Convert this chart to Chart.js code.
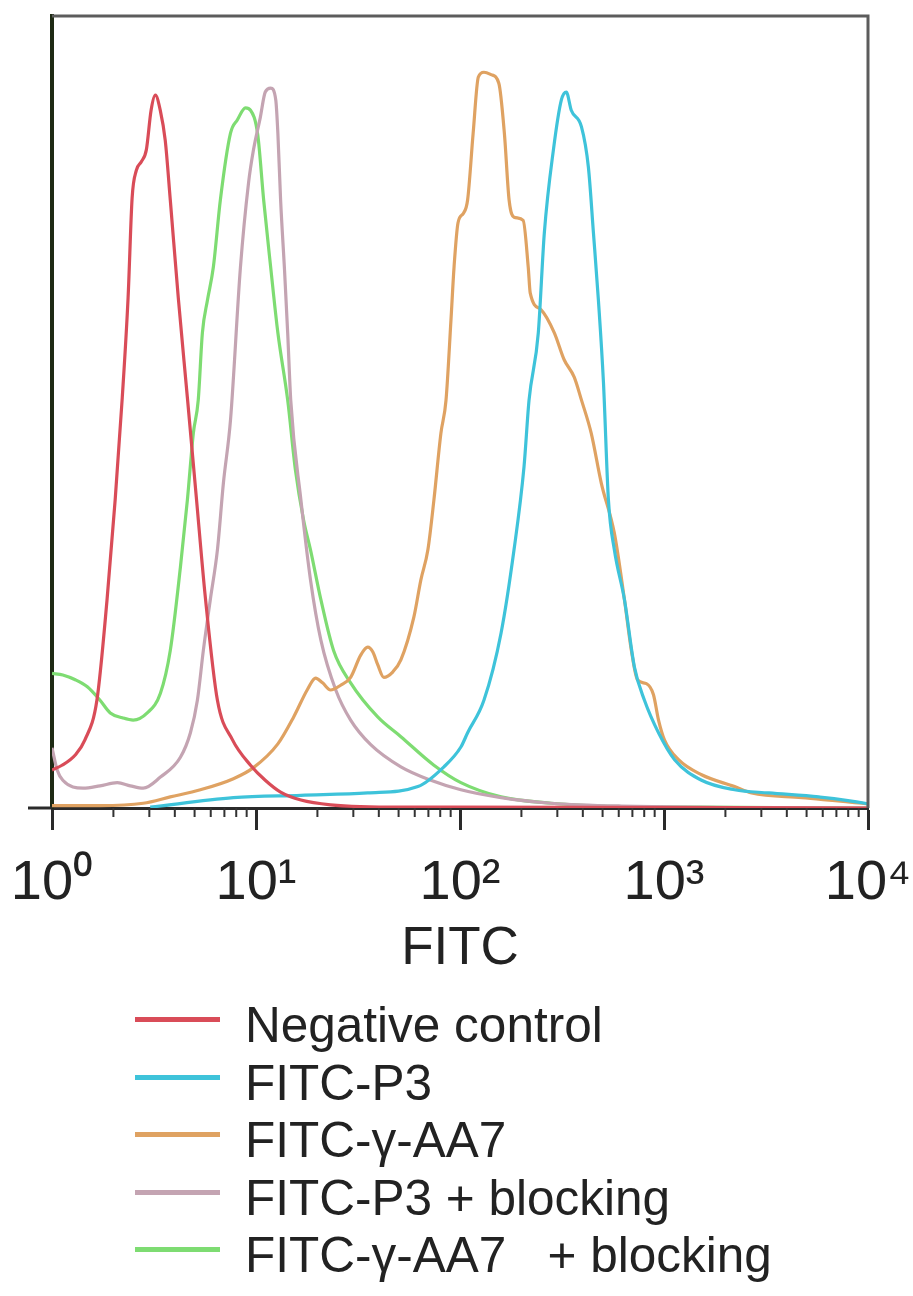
<!DOCTYPE html>
<html>
<head>
<meta charset="utf-8">
<script src="https://cdn.jsdelivr.net/npm/chart.js@4/dist/chart.umd.min.js"></script>
<style>
  html, body { margin: 0; padding: 0; background: #fff; }
  #wrap { position: relative; width: 913px; height: 1296px; }
  #chart { position: absolute; left: 0; top: 0; }
  #legend { position: absolute; left: 135px; top: 996px; }
  .row { display: flex; align-items: center; height: 57.5px; font: 49.5px "Liberation Sans", Arial, sans-serif; color: #222; white-space: pre; }
  .swatch { width: 85px; height: 5px; margin-right: 25px; margin-top: -10px; }
</style>
</head>
<body>
<div id="wrap">
  <canvas id="chart" width="913" height="990"></canvas>
  <div id="legend"></div>
</div>
<script>
// x axis decades and their labels
const decadeTicks = [1, 10, 100, 1000, 10000];
const decadeLabels = ['10⁰', '10¹', '10²', '10³', '10⁴'];
const axisTitle = 'FITC';

const seriesNames = ['Negative control', 'FITC-P3', 'FITC-γ-AA7', 'FITC-P3 + blocking', 'FITC-γ-AA7   + blocking'];

// Negative control (red)
const negX = [1.0, 1.12, 1.30, 1.45, 1.66, 1.86, 2.04, 2.21, 2.36, 2.47, 2.59, 2.74, 2.90, 3.06, 3.21, 3.40, 3.59, 3.80, 4.16, 4.61, 5.10, 5.65, 6.47, 7.67, 9.40, 11.1, 13.2, 16.6, 23.2, 51, 90, 10000];
const negY = [4.8, 5.4, 6.7, 8.6, 13.6, 26.2, 38.9, 51.8, 64.4, 77.0, 80.5, 81.6, 83.1, 88.1, 90.0, 88.0, 84.3, 76.8, 64.4, 51.8, 39.2, 26.5, 13.6, 8.6, 5.4, 3.5, 2.0, 1.0, 0.4, 0.1, 0.1, 0];

// FITC-P3 (cyan)
const p3X = [3.03, 7.75, 16.6, 35.3, 62.2, 83.4, 101, 109, 131, 159, 184, 206, 218, 242, 259, 287, 314, 332, 351, 394, 426, 451, 477, 505, 534, 571, 640, 716, 802, 940, 1127, 1528, 2218, 3266, 5740, 9660, 10000];
const p3Y = [0.1, 1.3, 1.6, 1.9, 2.7, 5.2, 7.7, 9.5, 13.6, 22.1, 32.6, 43.1, 51.5, 60.0, 72.6, 83.1, 89.4, 90.4, 88.1, 86.0, 80.9, 72.6, 64.1, 53.7, 38.9, 32.6, 26.3, 17.8, 13.6, 9.5, 6.1, 3.5, 2.3, 1.9, 1.4, 0.6, 0.5];

// FITC-γ-AA7 (orange)
const aa7X = [1.0, 1.72, 2.80, 3.80, 5.34, 7.75, 9.72, 12.8, 15.3, 17.9, 19.6, 21.2, 23.2, 26.0, 29.1, 32.6, 35.3, 37.4, 39.5, 42.3, 46.9, 51.3, 59.4, 64.3, 69.6, 74.5, 80.6, 85.4, 90.3, 93.5, 97.8, 104, 109, 116, 123, 131, 142, 155, 165, 174, 184, 204, 216, 221, 250, 290, 324, 363, 394, 440, 493, 571, 640, 692, 741, 820, 888, 940, 1005, 1178, 1528, 2218, 2690, 4740, 9350, 10000];
const aa7Y = [0.3, 0.3, 0.6, 1.4, 2.3, 3.7, 5.1, 8.1, 11.5, 15.0, 16.4, 15.8, 14.9, 15.5, 16.5, 19.3, 20.3, 19.7, 18.1, 16.5, 17.2, 18.7, 24.1, 28.8, 32.6, 38.9, 47.3, 51.5, 61.6, 68.3, 73.9, 75.1, 76.8, 85.2, 92.3, 92.9, 92.6, 91.5, 85.2, 76.8, 74.6, 74.2, 68.3, 65.0, 62.9, 60.0, 56.6, 54.4, 51.5, 47.3, 41.0, 34.7, 26.3, 19.9, 16.2, 15.7, 14.3, 11.1, 8.6, 6.1, 4.2, 2.7, 1.9, 1.3, 0.6, 0.5];

// FITC-P3 + blocking (mauve)
const p3bX = [1.0, 1.06, 1.13, 1.42, 1.72, 2.09, 2.42, 2.80, 3.40, 4.26, 4.77, 5.16, 5.52, 5.97, 6.47, 6.92, 7.50, 8.39, 9.19, 9.72, 10.5, 11.1, 11.8, 12.5, 12.8, 13.2, 13.8, 14.3, 14.8, 16.6, 18.5, 20.8, 24.6, 29.1, 36.5, 51.3, 72.0, 101, 159, 280, 618, 10000];
const p3bY = [7.6, 4.8, 3.5, 2.5, 2.8, 3.2, 2.8, 2.5, 3.9, 6.4, 9.5, 13.6, 19.9, 26.3, 32.6, 41.0, 49.0, 68.3, 78.9, 83.1, 87.2, 90.4, 90.9, 89.4, 85.2, 76.8, 67.9, 60.0, 51.5, 38.9, 28.8, 21.2, 14.9, 11.1, 8.0, 5.2, 3.5, 2.3, 1.3, 0.6, 0.25, 0];

// FITC-γ-AA7 + blocking (green)
const aa7bX = [1.0, 1.13, 1.30, 1.49, 1.72, 1.93, 2.21, 2.50, 2.93, 3.40, 3.80, 4.26, 4.61, 4.93, 5.21, 5.46, 5.78, 6.18, 6.69, 7.50, 8.11, 8.88, 9.40, 10.2, 10.9, 11.8, 12.8, 14.3, 15.6, 17.1, 18.5, 20.8, 24.0, 29.1, 39.5, 51.3, 74.5, 101, 159, 280, 493, 1530, 10000];
const aa7bY = [17.0, 16.8, 16.2, 15.3, 13.6, 12.0, 11.4, 11.1, 12.0, 14.5, 19.9, 30.4, 38.9, 47.3, 51.5, 60.0, 64.1, 68.3, 76.8, 85.2, 86.9, 88.4, 88.1, 85.0, 76.8, 68.3, 60.0, 51.5, 42.7, 36.4, 32.6, 26.3, 19.9, 15.8, 11.5, 9.0, 5.4, 3.2, 1.4, 0.6, 0.25, 0.1, 0];

const red = '#d94c58';
const cyan = '#3ec3da';
const orange = '#dfa262';
const mauve = '#c4a4b2';
const green = '#7edc72';

function toPoints(xs, ys) {
    return xs.map((x, i) => ({ x: x, y: ys[i] }));
}

function series(name, xs, ys, color) {
    return {
        label: name,
        data: toPoints(xs, ys),
        borderColor: color,
        backgroundColor: color,
        borderWidth: 3.2,
        pointRadius: 0,
        cubicInterpolationMode: 'monotone',
        fill: false
    };
}

// frame lines, minor ticks and the short axis stub left of the origin
const axisExtras = {
    id: 'axisExtras',
    afterDraw(chart) {
        const { ctx, chartArea: a, scales: { x } } = chart;
        ctx.save();
        ctx.strokeStyle = '#5c5c5c';
        ctx.lineWidth = 3;
        ctx.beginPath();
        ctx.moveTo(a.left, a.top);
        ctx.lineTo(a.right, a.top);
        ctx.lineTo(a.right, a.bottom);
        ctx.stroke();

        ctx.strokeStyle = '#333';
        ctx.lineWidth = 2;
        ctx.beginPath();
        x.ticks.forEach(t => {
            if (t.major) return;
            const px = x.getPixelForValue(t.value);
            ctx.moveTo(px, a.bottom);
            ctx.lineTo(px, a.bottom + 9);
        });
        ctx.stroke();

        ctx.strokeStyle = '#2a2a2a';
        ctx.lineWidth = 3;
        ctx.beginPath();
        ctx.moveTo(a.left - 24, a.bottom);
        ctx.lineTo(a.left, a.bottom);
        ctx.stroke();
        ctx.restore();
    }
};

const chart = new Chart(document.getElementById('chart'), {
    type: 'line',
    data: {
        datasets: [
            series(seriesNames[0], negX, negY, red),
            series(seriesNames[1], p3X, p3Y, cyan),
            series(seriesNames[2], aa7X, aa7Y, orange),
            series(seriesNames[3], p3bX, p3bY, mauve),
            series(seriesNames[4], aa7bX, aa7bY, green)
        ]
    },
    options: {
        responsive: false,
        animation: false,
        layout: { padding: { left: 2, right: 45, top: 16, bottom: 0 } },
        plugins: { legend: { display: false }, tooltip: { enabled: false } },
        scales: {
            x: {
                type: 'logarithmic',
                min: 1,
                max: 10000,
                afterBuildTicks: scale => {
                    const ticks = [];
                    for (let d = 0; d < decadeTicks.length - 1; d++) {
                        for (let m = 1; m < 10; m++) {
                            ticks.push({ value: decadeTicks[d] * m, major: m === 1 });
                        }
                    }
                    ticks.push({ value: decadeTicks[decadeTicks.length - 1], major: true });
                    scale.ticks = ticks;
                },
                afterFit: scale => {
                    scale.height = 182;
                    scale.paddingLeft = 0;
                    scale.paddingRight = 0;
                },
                grid: {
                    display: true,
                    drawOnChartArea: false,
                    drawTicks: true,
                    tickLength: 22,
                    tickWidth: 3,
                    tickColor: c => (c.tick && c.tick.major) ? '#2a2a2a' : 'rgba(0,0,0,0)'
                },
                border: { display: true, color: '#2a2a2a', width: 3 },
                ticks: {
                    autoSkip: false,
                    maxRotation: 0,
                    padding: 26,
                    color: '#222',
                    font: { family: '"Liberation Sans", Arial, sans-serif', size: 56, lineHeight: 1 },
                    callback: value => {
                        const i = decadeTicks.indexOf(value);
                        return i >= 0 ? decadeLabels[i] : '';
                    }
                },
                title: {
                    display: true,
                    text: axisTitle,
                    color: '#222',
                    font: { family: '"Liberation Sans", Arial, sans-serif', size: 53, lineHeight: 1 },
                    padding: { top: 0, bottom: 14 }
                }
            },
            y: {
                min: 0,
                max: 100,
                afterFit: scale => { scale.width = 50; },
                grid: { display: false },
                border: { display: true, color: '#1e2a14', width: 4 },
                ticks: { display: false }
            }
        }
    },
    plugins: [axisExtras]
});

// legend built from the chart's datasets
const legendEl = document.getElementById('legend');
chart.data.datasets.forEach(ds => {
    const row = document.createElement('div');
    row.className = 'row';
    const sw = document.createElement('span');
    sw.className = 'swatch';
    sw.style.background = ds.borderColor;
    const txt = document.createElement('span');
    txt.textContent = ds.label;
    row.appendChild(sw);
    row.appendChild(txt);
    legendEl.appendChild(row);
});
</script>
</body>
</html>
